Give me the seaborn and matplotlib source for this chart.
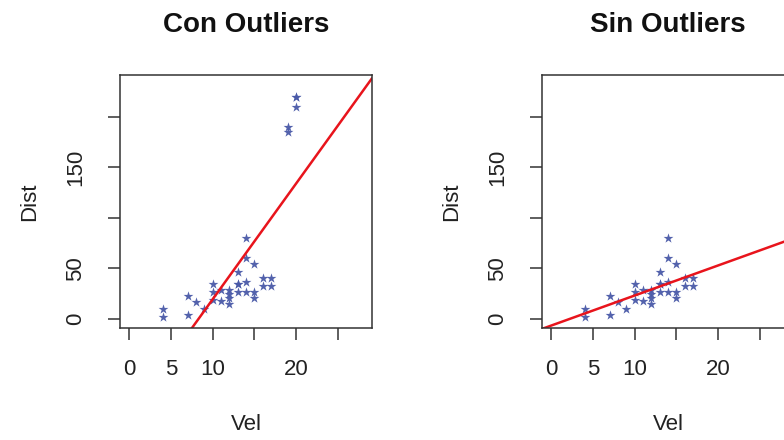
import numpy as np
import pandas as pd
import matplotlib
matplotlib.use("Agg")
import matplotlib.pyplot as plt
import seaborn as sns

# ---- data (cars rows 1-30 + added outliers) ----
vel = [4, 4, 7, 7, 8, 9, 10, 10, 10, 11, 11, 12, 12, 12, 12, 13, 13, 13, 13,
       14, 14, 14, 14, 15, 15, 15, 16, 16, 17, 17]
dist = [2, 10, 4, 22, 16, 10, 18, 26, 34, 17, 28, 14, 20, 24, 28, 26, 34, 34, 46,
        26, 36, 60, 80, 20, 26, 54, 32, 40, 32, 40]
out_vel = [19, 19, 20, 20, 20]
out_dist = [185, 190, 210, 220, 220]

titles = ["Con Outliers", "Sin Outliers"]
x_ticks = [0, 5, 10, 15, 20, 25]
x_tick_labels = ["0", "5", "10", "", "20", ""]
y_ticks = [0, 50, 100, 150, 200]
y_tick_labels = ["0", "50", "", "150", ""]

df_sin = pd.DataFrame({"Vel": vel, "Dist": dist})
df_con = pd.DataFrame({"Vel": vel + out_vel, "Dist": dist + out_dist})

sns.set_style("white")
plt.rcParams["font.family"] = ["Liberation Sans", "DejaVu Sans"]

W, H = 784, 440
fig = plt.figure(figsize=(W / 100, H / 100), dpi=100)

ax_w, ax_h = 252, 253
lefts = [120, 542]
bottom = H - 328
point_color = "#4a5aa8"
frame_color = "#333333"

for left, df, title in zip(lefts, [df_con, df_sin], titles):
    ax = fig.add_axes([left / W, bottom / H, ax_w / W, ax_h / H])
    ax.set_xlim(-1.12, 29.12)
    ax.set_ylim(-9.3, 241.3)
    sns.regplot(data=df, x="Vel", y="Dist", ax=ax, ci=None, truncate=False,
                marker="*",
                scatter_kws=dict(s=55, color=point_color, linewidths=0, alpha=0.95),
                line_kws=dict(color="#e8141c", linewidth=1.8))
    ax.set_xlim(-1.12, 29.12)
    ax.set_ylim(-9.3, 241.3)
    ax.set_xticks(x_ticks)
    ax.set_xticklabels(x_tick_labels)
    ax.set_yticks(y_ticks)
    ax.set_yticklabels(y_tick_labels, rotation=90, va="center")
    ax.tick_params(axis="both", direction="out", length=8.5, width=1.1,
                   color=frame_color, labelsize=16, labelcolor="#222222",
                   bottom=True, left=True)
    ax.tick_params(axis="x", pad=14)
    ax.tick_params(axis="y", pad=16)
    for sp in ax.spines.values():
        sp.set_color(frame_color)
        sp.set_linewidth(1.1)
    ax.set_xlabel("Vel", fontsize=16, labelpad=24, color="#222222")
    ax.set_ylabel("Dist", fontsize=16, labelpad=18, color="#222222")
    ax.set_title(title, fontsize=20, fontweight="bold", pad=31, color="#111111")

fig.savefig("out.png", dpi=100)
